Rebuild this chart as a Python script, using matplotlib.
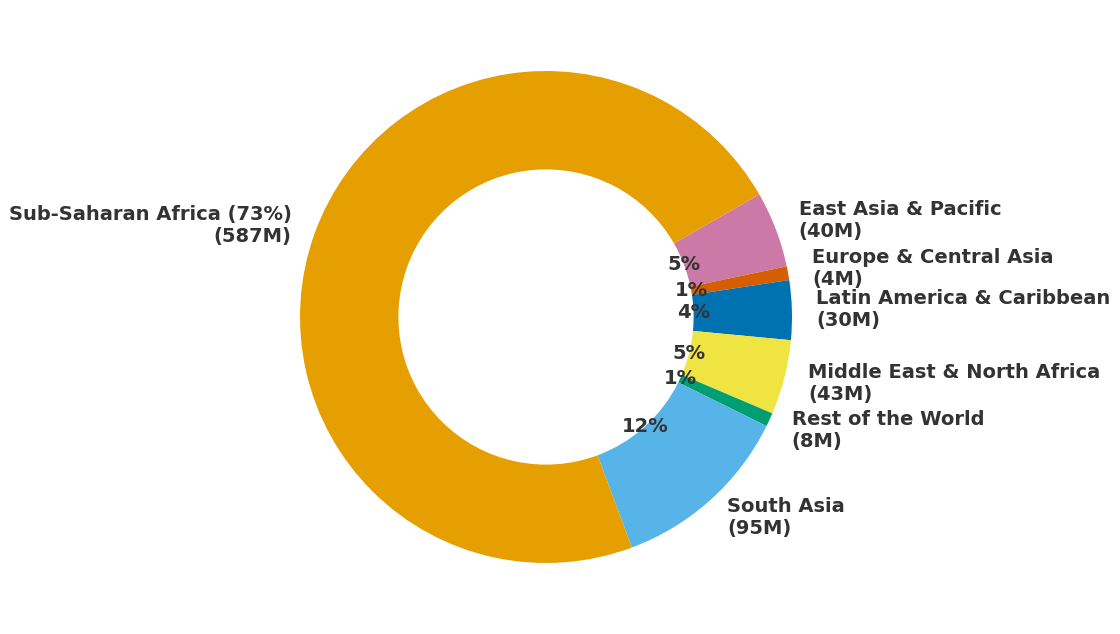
import matplotlib.pyplot as plt

regions = ['East Asia & Pacific', 'Europe & Central Asia', 'Latin America & Caribbean',
           'Middle East & North Africa', 'Rest of the World', 'South Asia', 'Sub-Saharan Africa']
millions = [40, 4, 30, 43, 8, 95, 587]
# share of total (%)
share = [5.0, 0.9, 3.9, 4.9, 0.9, 12.0, 72.3]
# percentages as printed on the chart
pct_shown = [5, 1, 4, 5, 1, 12, 73]
colors = ['#CC79A7', '#D55E00', '#0072B2', '#F0E442', '#009E73', '#56B4E9', '#E69F00']

labels = []
for r, m, p in zip(regions, millions, pct_shown):
    if p > 50:
        labels.append('%s (%d%%)\n(%dM)' % (r, p, m))
    else:
        labels.append('%s\n(%dM)' % (r, m))

fig = plt.figure(figsize=(11.2, 6.34), dpi=100)
ax = fig.add_axes([238.5 / 1120, 9.5 / 634, 615 / 1120, 615 / 634])

wedges, texts, autotexts = ax.pie(
    share, labels=labels, colors=colors, startangle=29.9, counterclock=False,
    autopct='%1.0f%%', pctdistance=0.6, labeldistance=1.1,
    wedgeprops=dict(width=0.4, linewidth=0),
    textprops=dict(fontsize=14, fontweight='bold', color='#333333', family='DejaVu Sans'))

for t, p in zip(autotexts, pct_shown):
    t.set_text('' if p > 50 else '%d%%' % p)

for t in texts:
    t.set_verticalalignment('center')

ax.set_aspect('equal')
fig.savefig('out.png', dpi=100)
